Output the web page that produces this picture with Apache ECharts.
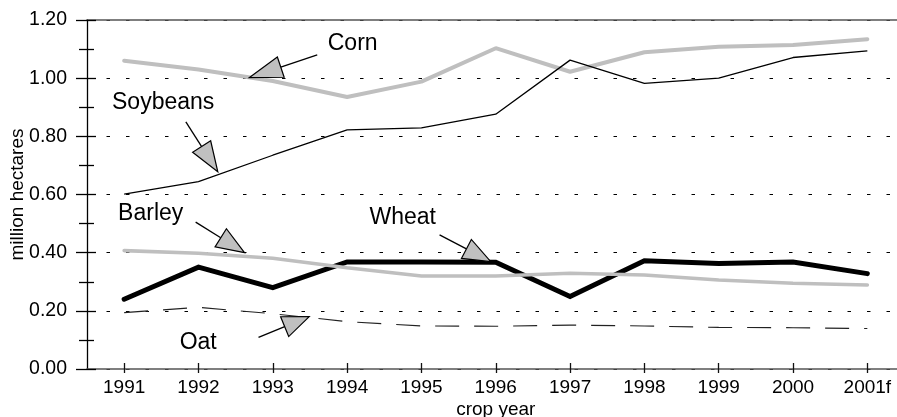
<!DOCTYPE html>
<html>
<head>
<meta charset="utf-8">
<script src="https://cdn.jsdelivr.net/npm/echarts@6/dist/echarts.min.js"></script>
<style>
html,body{margin:0;padding:0;background:#fff;}
#chart{width:897px;height:417px;}
</style>
</head>
<body>
<div id="chart"></div>
<script>
// ---- data ----
var categories = ['1991','1992','1993','1994','1995','1996','1997','1998','1999','2000','2001f'];
var corn     = [1.060, 1.030, 0.990, 0.935, 0.988, 1.103, 1.022, 1.089, 1.108, 1.114, 1.134];
var soybeans = [0.601, 0.644, 0.735, 0.822, 0.829, 0.876, 1.062, 0.982, 1.000, 1.071, 1.094];
var barley   = [0.407, 0.398, 0.381, 0.348, 0.320, 0.320, 0.329, 0.323, 0.306, 0.295, 0.289];
var wheat    = [0.240, 0.350, 0.280, 0.368, 0.368, 0.367, 0.249, 0.372, 0.363, 0.368, 0.328];
var oat      = [0.194, 0.212, 0.190, 0.163, 0.148, 0.147, 0.151, 0.148, 0.143, 0.142, 0.139];
var yMin = 0, yMax = 1.2, yStep = 0.2;

// annotation anchors in data space: [category index, value]
var annotations = [
  {text:'Corn',     at:[3.075, 1.120], tail:[2.598, 1.080], tip:[1.686, 1.002], head:33},
  {text:'Soybeans', at:[0.525, 0.915], tail:[0.830, 0.850], tip:[1.260, 0.678], head:30},
  {text:'Barley',   at:[0.357, 0.533], tail:[0.962, 0.505], tip:[1.619, 0.400], head:28},
  {text:'Wheat',    at:[3.748, 0.519], tail:[4.244, 0.461], tip:[4.933, 0.369], head:27.5},
  {text:'Oat',      at:[0.996, 0.091], tail:[1.808, 0.109], tip:[2.490, 0.180], head:26.5}
];

var FONT = 'Liberation Sans, Arial, Helvetica, sans-serif';
var chart = echarts.init(document.getElementById('chart'), null, {renderer:'canvas'});

var option = {
  animation: false,
  backgroundColor: '#fff',
  grid: {left: 87, top: 20, width: 817.5, height: 349, containLabel: false, outerBoundsMode: 'none'},
  xAxis: [
    {
      type: 'category', data: categories, position: 'bottom', boundaryGap: true,
      name: 'crop year', nameLocation: 'middle', nameGap: 31, nameMoveOverlap: false,
      nameTextStyle: {color: '#000', fontSize: 19, fontFamily: FONT},
      axisLine: {show: true, lineStyle: {color: '#555', width: 1.6}},
      axisTick: {show: true, inside: true, length: 6, alignWithLabel: true, lineStyle: {color: '#111', width: 1.3}},
      axisLabel: {color: '#000', fontSize: 19, fontFamily: FONT, margin: 9, interval: 0},
      splitLine: {show: false}
    },
    {
      type: 'category', data: categories, position: 'bottom', boundaryGap: true,
      axisLine: {show: false},
      axisTick: {show: true, inside: false, length: 4, alignWithLabel: true, lineStyle: {color: '#111', width: 1.3}},
      axisLabel: {show: false},
      splitLine: {show: false}
    },
    {
      type: 'category', data: categories, position: 'top', boundaryGap: true,
      axisLine: {show: true, lineStyle: {color: '#555', width: 1.6}},
      axisTick: {show: false}, axisLabel: {show: false}, splitLine: {show: false}
    }
  ],
  yAxis: [
    {
      type: 'value', position: 'left', min: yMin, max: yMax, interval: yStep,
      name: 'million hectares', nameLocation: 'middle', nameGap: 60, nameMoveOverlap: false,
      nameTextStyle: {color: '#000', fontSize: 19, fontFamily: FONT},
      axisLine: {show: true, lineStyle: {color: '#000', width: 1.3}},
      axisTick: {show: true, inside: false, length: 11, lineStyle: {color: '#000', width: 1.3}},
      minorTick: {show: true, splitNumber: 2, length: 8, lineStyle: {color: '#000', width: 1.3}},
      axisLabel: {color: '#000', fontSize: 19.5, fontFamily: FONT, margin: 20,
        formatter: function (v) { return v.toFixed(2); }},
      splitLine: {show: true, lineStyle: {color: '#000', width: 1, type: [3.5, 16]}}
    },
    {
      type: 'value', position: 'left', min: yMin, max: yMax, interval: yStep,
      axisLine: {show: false},
      axisTick: {show: true, inside: true, length: 9, lineStyle: {color: '#000', width: 1.3}},
      minorTick: {show: true, splitNumber: 2, length: 7, lineStyle: {color: '#000', width: 1.3}},
      axisLabel: {show: false},
      splitLine: {show: false}
    }
  ],
  series: [
    {name: 'Wheat', type: 'line', data: wheat, symbol: 'none', z: 2,
      lineStyle: {color: '#000', width: 5, cap: 'round', join: 'miter'}},
    {name: 'Barley', type: 'line', data: barley, symbol: 'none', z: 3,
      lineStyle: {color: '#bfbfbf', width: 3.6, cap: 'round'}},
    {name: 'Oat', type: 'line', data: oat, symbol: 'none', z: 3,
      lineStyle: {color: '#222', width: 1.1, type: [24, 15]}},
    {name: 'Corn', type: 'line', data: corn, symbol: 'none', z: 3,
      lineStyle: {color: '#bfbfbf', width: 4, cap: 'round'}},
    {name: 'Soybeans', type: 'line', data: soybeans, symbol: 'none', z: 4,
      lineStyle: {color: '#000', width: 1.3}}
  ]
};
chart.setOption(option);

// ---- annotations (positioned through the axes) ----
function toPx(p) {
  var x0 = chart.convertToPixel({xAxisIndex: 0}, 0);
  var x1 = chart.convertToPixel({xAxisIndex: 0}, 1);
  var y = chart.convertToPixel({yAxisIndex: 0}, p[1]);
  return [x0 + p[0] * (x1 - x0), y];
}
var graphics = [];
annotations.forEach(function (a) {
  var c = toPx(a.at), s = toPx(a.tail), t = toPx(a.tip);
  var dx = t[0] - s[0], dy = t[1] - s[1];
  var len = Math.sqrt(dx * dx + dy * dy);
  var ux = dx / len, uy = dy / len;
  var bx = t[0] - ux * a.head, by = t[1] - uy * a.head;
  var hw = 10.7;
  graphics.push({
    type: 'line', z: 100,
    shape: {x1: s[0], y1: s[1], x2: bx, y2: by},
    style: {stroke: '#000', lineWidth: 1.3}
  });
  graphics.push({
    type: 'polygon', z: 101,
    shape: {points: [[t[0], t[1]], [bx - uy * hw, by + ux * hw], [bx + uy * hw, by - ux * hw]]},
    style: {fill: '#c0c0c0', stroke: '#000', lineWidth: 1.2, lineJoin: 'miter'}
  });
  graphics.push({
    type: 'text', z: 102, x: c[0], y: c[1],
    style: {text: a.text, fill: '#000', font: '23px ' + FONT, textAlign: 'center', textVerticalAlign: 'middle'}
  });
});
chart.setOption({graphic: graphics});
</script>
</body>
</html>
